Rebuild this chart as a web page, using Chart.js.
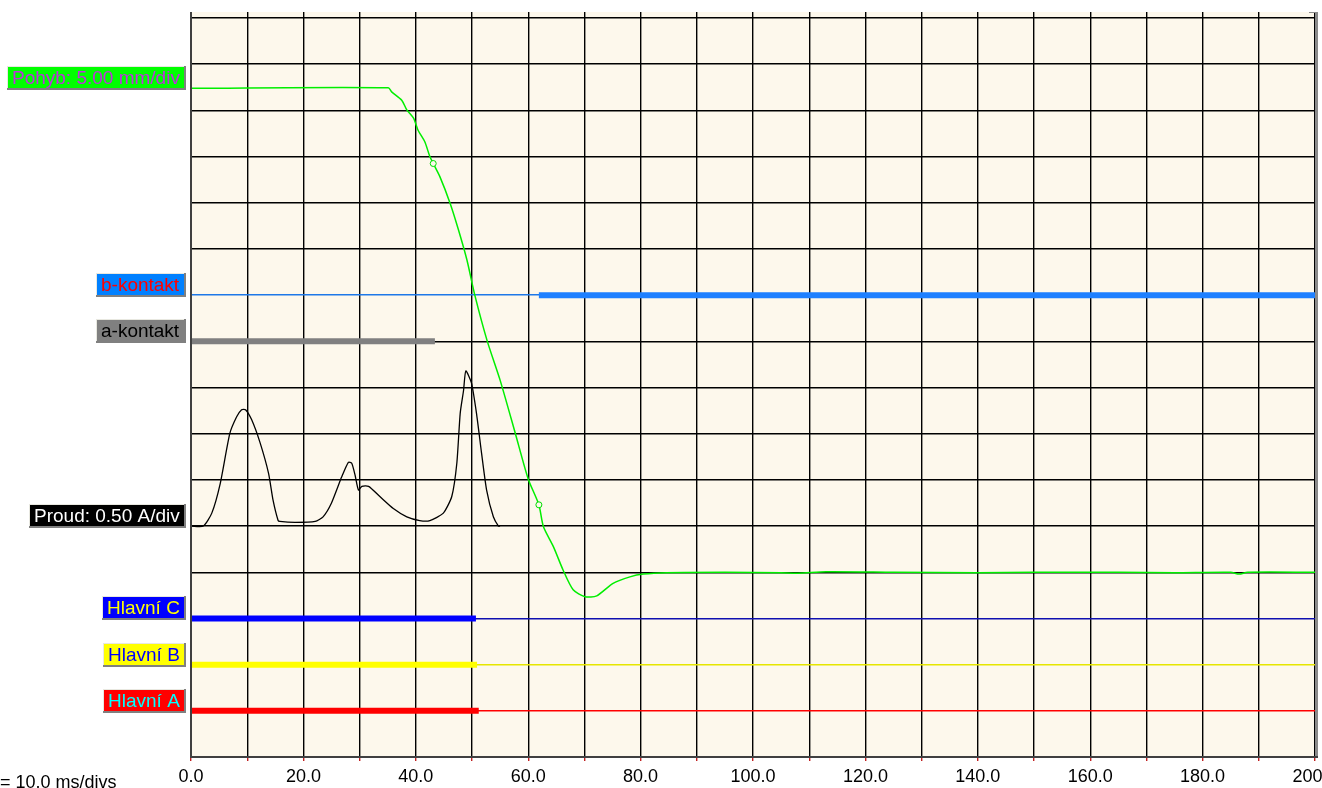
<!DOCTYPE html>
<html>
<head>
<meta charset="utf-8">
<script src="https://cdn.jsdelivr.net/npm/chart.js@4"></script>
<style>
  html, body { margin: 0; padding: 0; background: #ffffff; }
  #wrap { width: 1322px; height: 788px; position: relative; }
</style>
</head>
<body>
<div id="wrap"><canvas id="canvas"></canvas></div>
<script>
// TRACE DATA (time in ms, levels in divisions)
const movTime = [0, 35.1, 35.7, 37.5, 38.4, 39.6, 40.4, 41.6, 42.5, 43.1, 44.3, 46.1, 47.6, 49.1, 50.5, 52.7, 55.0, 57.7, 60.0, 61.9, 62.7, 64.5, 66.2, 68.0, 70.1, 72.2, 75.1, 78.1, 80.5, 84.6, 95, 105, 108, 113, 125, 140, 150, 165, 175, 185, 186.5, 188, 200];
const movDiv  = [14.48, 14.49, 14.40, 14.22, 14.01, 13.83, 13.57, 13.32, 13.00, 12.85, 12.56, 11.99, 11.41, 10.76, 10.00, 9.01, 8.16, 7.01, 6.02, 5.46, 4.99, 4.55, 4.05, 3.62, 3.47, 3.49, 3.76, 3.90, 3.96, 3.99, 4.00, 3.99, 3.98, 4.01, 4.00, 3.99, 4.00, 4.00, 3.99, 4.00, 3.96, 4.00, 4.00];
const movMarkers = [43.1, 61.9];

const curTime = [0, 2.2, 3.7, 5.2, 6.9, 8.1, 9.0, 9.7, 10.8, 12.3, 13.8, 14.6, 15.5, 15.8, 18.5, 22.1, 23.5, 25.0, 26.8, 28.0, 28.6, 29.2, 29.8, 30.4, 31.6, 33.6, 36.0, 38.4, 40.7, 42.5, 44.9, 46.4, 47.3, 47.9, 48.5, 48.9, 49.9, 50.8, 51.7, 52.6, 53.8, 54.7, 55.0];
const curAmps = [0, 0, 0.14, 0.46, 1.00, 1.18, 1.26, 1.26, 1.15, 0.90, 0.57, 0.28, 0.06, 0.05, 0.04, 0.05, 0.10, 0.25, 0.53, 0.69, 0.68, 0.55, 0.39, 0.43, 0.43, 0.32, 0.19, 0.10, 0.06, 0.06, 0.14, 0.32, 0.68, 1.22, 1.47, 1.68, 1.55, 1.22, 0.79, 0.39, 0.10, 0, 0];
const curBase = 5;
const curScale = 0.5; // A/div

const contactNames  = ['Hlavní A', 'Hlavní B', 'Hlavní C', 'a-kontakt', 'b-kontakt'];
const contactLevels = [1, 2, 3, 9, 10];
const contactOn     = [0, 0, 0, 0, 61.9];
const contactOff    = [51.2, 50.9, 50.7, 43.4, 200];
const contactColors = ['#ff0000', '#ffff00', '#0000ff', '#808080', '#1e80ff'];

// channel labels on the left
const labelTexts  = ['Pohyb: 5.00 mm/div', 'b-kontakt', 'a-kontakt', 'Proud: 0.50 A/div', 'Hlavní C', 'Hlavní B', 'Hlavní A'];
const labelLevels = [14.48, 10, 9, 5, 3, 2, 1];
const labelBack   = ['#00ff00', '#0080ff', '#808080', '#000000', '#0000ff', '#ffff00', '#ff0000'];
const labelFore   = ['#c030e0', '#ff0000', '#000000', '#ffffff', '#ffff00', '#0000ff', '#00ffff'];

const xTicksEvery = 20;
const FONT = '"Liberation Sans", Arial, sans-serif';

const canvas = document.getElementById('canvas');
canvas.width = 1322;
canvas.height = 788;

let datasets = [];
datasets.push({
    label: 'Pohyb',
    data: movTime.map((t, i) => ({ x: t, y: movDiv[i] })),
    borderColor: '#00ee00',
    borderWidth: 1.5,
    pointRadius: ctx => movMarkers.includes(movTime[ctx.dataIndex]) ? 3 : 0,
    pointBorderColor: '#00dd00',
    pointBackgroundColor: '#fdf8ec',
    pointBorderWidth: 1,
    tension: 0.25
});
datasets.push({
    label: 'Proud',
    data: curTime.map((t, i) => ({ x: t, y: curBase + curAmps[i] / curScale })),
    borderColor: '#000000',
    borderWidth: 1.3,
    pointRadius: 0,
    tension: 0.2
});
contactNames.forEach((n, i) => {
    datasets.push({
        label: n,
        data: [{ x: contactOn[i], y: contactLevels[i] }, { x: contactOff[i], y: contactLevels[i] }],
        borderColor: contactColors[i],
        borderWidth: 6,
        borderCapStyle: 'butt',
        pointRadius: 0
    });
});

// plot background + borders + channel labels
const scopePlugin = {
    id: 'scope',
    beforeDraw(chart) {
        const { ctx, chartArea: a } = chart;
        ctx.save();
        ctx.fillStyle = '#fdf8ec';
        ctx.fillRect(a.left, a.top, a.right - a.left, a.bottom - a.top);
        ctx.restore();
    },
    afterDraw(chart) {
        const { ctx, chartArea: a } = chart;
        const y = chart.scales.y;
        ctx.save();
        // right 3d edge
        ctx.fillStyle = '#8a8a8a';
        ctx.fillRect(a.right, a.top, 3, a.bottom - a.top);
        ctx.fillRect(a.right - 6, a.top, 9, 1);
        // left + bottom border
        ctx.fillStyle = '#404040';
        ctx.fillRect(a.left - 1, a.top, 2, a.bottom - a.top + 1);
        ctx.fillRect(a.left - 1, a.bottom - 1, a.right - a.left + 4, 2);

        ctx.font = '19px ' + FONT;
        ctx.textBaseline = 'alphabetic';
        labelTexts.forEach((txt, i) => {
            const py = Math.round(y.getPixelForValue(labelLevels[i])) + 1;
            const w = Math.ceil(ctx.measureText(txt).width) + 10;
            const x1 = 185, x0 = x1 - w, y0 = py - 23;
            ctx.fillStyle = labelBack[i];
            ctx.fillRect(x0, y0, w, 23);
            ctx.fillStyle = '#e8e8e0';
            ctx.fillRect(x0, y0, w, 1);
            ctx.fillRect(x0, y0, 1, 23);
            ctx.fillStyle = '#808080';
            ctx.fillRect(x0, py - 1, w, 2);
            ctx.fillRect(x1 - 1, y0, 2, 24);
            ctx.fillStyle = labelFore[i];
            ctx.fillText(txt, x0 + 5, py - 5);
        });

        ctx.font = '18px ' + FONT;
        ctx.fillStyle = '#000000';
        ctx.fillText('= 10.0 ms/divs', 0, 788);
        ctx.restore();
    }
};

const myChart = new Chart(canvas.getContext('2d'), {
    type: 'line',
    data: { datasets: datasets },
    plugins: [scopePlugin],
    options: {
        responsive: false,
        animation: false,
        events: [],
        layout: { autoPadding: false, padding: { left: 191, right: 7, top: 12, bottom: 0 } },
        plugins: { legend: { display: false }, tooltip: { enabled: false } },
        scales: {
            x: {
                type: 'linear',
                min: 0,
                max: 200,
                afterFit: s => { s.height = 31; s.paddingLeft = 0; s.paddingRight = 0; },
                border: { display: false },
                grid: { color: '#000000', lineWidth: 1.4, tickColor: '#c02020', tickLength: 4 },
                ticks: {
                    stepSize: 10,
                    autoSkip: false,
                    maxRotation: 0,
                    padding: 5,
                    color: '#000000',
                    font: { family: FONT, size: 18 },
                    callback: v => v % xTicksEvery === 0 ? v.toFixed(1) : ''
                }
            },
            y: {
                type: 'linear',
                min: 0,
                max: 16.13,
                afterFit: s => { s.width = 0; s.paddingTop = 0; s.paddingBottom = 0; },
                border: { display: false },
                grid: {
                    drawTicks: false,
                    lineWidth: 1.4,
                    color: ctx => {
                        const v = ctx.tick && ctx.tick.value;
                        if (v === 1) return '#ff0000';
                        if (v === 2) return '#e6e600';
                        if (v === 3) return '#1010b0';
                        if (v === 10) return '#1e78e8';
                        return '#000000';
                    }
                },
                ticks: { display: false, stepSize: 1, includeBounds: false }
            }
        }
    }
});
</script>
</body>
</html>
